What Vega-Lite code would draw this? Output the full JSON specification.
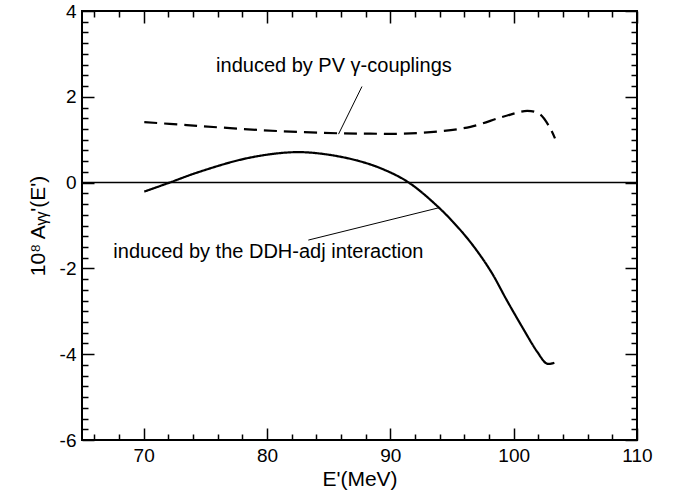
{
  "$schema": "https://vega.github.io/schema/vega-lite/v6.json",
  "width": 555,
  "height": 429,
  "autosize": "none",
  "padding": {"left": 82, "top": 11, "right": 37, "bottom": 53},
  "background": "white",
  "config": {
    "view": {"stroke": "black", "strokeWidth": 2},
    "font": "Liberation Sans",
    "axis": {"domain": false, "grid": false, "tickColor": "black", "tickWidth": 1.5, "labelColor": "black", "titleColor": "black", "labelFont": "Liberation Sans", "titleFont": "Liberation Sans", "labelFontSize": 19, "titleFontSize": 21, "titleFontWeight": "normal"}
  },
  "datasets": {
    "curves": [
      {"series": "ddh", "E": 70.05, "A": -0.21},
      {"series": "ddh", "E": 72.1, "A": 0.0},
      {"series": "ddh", "E": 74.3, "A": 0.23},
      {"series": "ddh", "E": 77.8, "A": 0.53},
      {"series": "ddh", "E": 80.5, "A": 0.67},
      {"series": "ddh", "E": 82.7, "A": 0.71},
      {"series": "ddh", "E": 85.0, "A": 0.65},
      {"series": "ddh", "E": 87.5, "A": 0.50},
      {"series": "ddh", "E": 89.5, "A": 0.30},
      {"series": "ddh", "E": 91.5, "A": 0.0},
      {"series": "ddh", "E": 94.0, "A": -0.60},
      {"series": "ddh", "E": 95.9, "A": -1.18},
      {"series": "ddh", "E": 97.2, "A": -1.66},
      {"series": "ddh", "E": 98.3, "A": -2.14},
      {"series": "ddh", "E": 99.4, "A": -2.72},
      {"series": "ddh", "E": 100.8, "A": -3.42},
      {"series": "ddh", "E": 101.9, "A": -3.94},
      {"series": "ddh", "E": 102.7, "A": -4.22},
      {"series": "ddh", "E": 103.3, "A": -4.20},
      {"series": "pv", "E": 70.05, "A": 1.41},
      {"series": "pv", "E": 73.5, "A": 1.34},
      {"series": "pv", "E": 77.0, "A": 1.27},
      {"series": "pv", "E": 81.0, "A": 1.20},
      {"series": "pv", "E": 85.8, "A": 1.15},
      {"series": "pv", "E": 88.4, "A": 1.14},
      {"series": "pv", "E": 91.0, "A": 1.14},
      {"series": "pv", "E": 93.8, "A": 1.19},
      {"series": "pv", "E": 96.5, "A": 1.30},
      {"series": "pv", "E": 99.2, "A": 1.54},
      {"series": "pv", "E": 101.1, "A": 1.67},
      {"series": "pv", "E": 102.1, "A": 1.60},
      {"series": "pv", "E": 102.9, "A": 1.30},
      {"series": "pv", "E": 103.35, "A": 1.03}
    ],
    "leaders": [
      {"E": 87.7, "A": 2.24, "E2": 85.8, "A2": 1.13},
      {"E": 83.35, "A": -1.34, "E2": 94.03, "A2": -0.58}
    ],
    "notes": [
      {"E": 75.87, "A": 2.58, "label": "induced by PV γ-couplings"},
      {"E": 67.54, "A": -1.765, "label": "induced by the DDH-adj interaction"}
    ],
    "zero": [{"A": 0}]
  },
  "layer": [
    {
      "data": {"name": "zero"},
      "mark": {"type": "rule", "color": "black", "strokeWidth": 1.5},
      "encoding": {
        "y": {"field": "A", "type": "quantitative", "scale": {"domain": [-6, 4], "nice": false, "zero": false}, "axis": null}
      }
    },
    {
      "data": {"name": "curves"},
      "mark": {"type": "line", "color": "black", "strokeWidth": 2.2, "interpolate": "catmull-rom"},
      "encoding": {
        "x": {"field": "E", "type": "quantitative", "scale": {"domain": [65, 110], "nice": false, "zero": false},
          "axis": {"orient": "bottom", "title": "E'(MeV)", "values": [66,68,70,72,74,76,78,80,82,84,86,88,90,92,94,96,98,100,102,104,106,108,110],
            "tickSize": {"condition": {"test": "datum.value % 10 === 0", "value": -12}, "value": -6},
            "labelPadding": 18, "labelExpr": "datum.value % 10 === 0 ? '' + datum.value : ''", "labelFlush": false, "labelOverlap": false, "titlePadding": -3}},
        "y": {"field": "A", "type": "quantitative", "scale": {"domain": [-6, 4], "nice": false, "zero": false},
          "axis": {"orient": "left", "title": "10⁸ Aᵧᵧ'(E')", "values": [-6,-5.75,-5.5,-5.25,-5,-4.75,-4.5,-4.25,-4,-3.75,-3.5,-3.25,-3,-2.75,-2.5,-2.25,-2,-1.75,-1.5,-1.25,-1,-0.75,-0.5,-0.25,0,0.25,0.5,0.75,1,1.25,1.5,1.75,2,2.25,2.5,2.75,3,3.25,3.5,3.75,4],
            "tickSize": {"condition": {"test": "datum.value % 2 === 0", "value": -12}, "value": -6},
            "labelPadding": 18, "labelExpr": "datum.value % 2 === 0 ? '' + datum.value : ''", "labelFlush": false, "labelOverlap": false, "titlePadding": 11}},
        "strokeDash": {"field": "series", "type": "nominal", "scale": {"domain": ["ddh", "pv"], "range": [[1, 0], [13, 7]]}, "legend": null}
      }
    },
    {
      "data": {"name": "leaders"},
      "mark": {"type": "rule", "color": "black", "strokeWidth": 1},
      "encoding": {
        "x": {"field": "E", "type": "quantitative", "axis": null},
        "y": {"field": "A", "type": "quantitative", "axis": null},
        "x2": {"field": "E2"},
        "y2": {"field": "A2"}
      }
    },
    {
      "data": {"name": "notes"},
      "mark": {"type": "text", "align": "left", "baseline": "alphabetic", "fontSize": 20, "font": "Liberation Sans", "color": "black"},
      "encoding": {
        "x": {"field": "E", "type": "quantitative",
          "axis": {"orient": "top", "title": null, "values": [66,68,70,72,74,76,78,80,82,84,86,88,90,92,94,96,98,100,102,104,106,108,110],
            "tickSize": {"condition": {"test": "datum.value % 10 === 0", "value": -12}, "value": -6}, "labels": false}},
        "y": {"field": "A", "type": "quantitative",
          "axis": {"orient": "right", "title": null, "values": [-6,-5.75,-5.5,-5.25,-5,-4.75,-4.5,-4.25,-4,-3.75,-3.5,-3.25,-3,-2.75,-2.5,-2.25,-2,-1.75,-1.5,-1.25,-1,-0.75,-0.5,-0.25,0,0.25,0.5,0.75,1,1.25,1.5,1.75,2,2.25,2.5,2.75,3,3.25,3.5,3.75,4],
            "tickSize": {"condition": {"test": "datum.value % 2 === 0", "value": -12}, "value": -6}, "labels": false}},
        "text": {"field": "label", "type": "nominal"}
      }
    }
  ],
  "resolve": {"axis": {"x": "independent", "y": "independent"}}
}
